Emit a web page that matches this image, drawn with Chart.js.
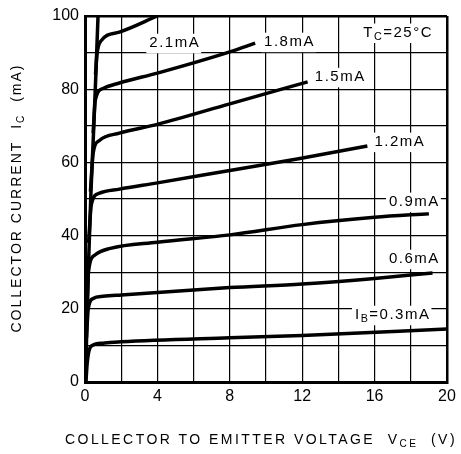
<!DOCTYPE html>
<html>
<head>
<meta charset="utf-8">
<script src="https://cdn.jsdelivr.net/npm/chart.js@4.4.1/dist/chart.umd.min.js"></script>
<style>
  html, body { margin: 0; padding: 0; background: #fff; }
  #wrap { width: 461px; height: 454px; }
</style>
</head>
<body>
<div id="wrap"><canvas id="chart"></canvas></div>
<script>
// Ejes: VCE (V) e IC (mA)
const vceTicks = [0, 4, 8, 12, 16, 20];
const icTicks = [0, 20, 40, 60, 80, 100];

// Curvas IC-VCE, [VCE, IC]
const ib03 = [[0.05, 0], [0.12, 5], [0.22, 8.5], [0.4, 10], [1, 10.6], [2, 11], [8, 12.1], [12, 12.7], [20, 14.5]];
const ib06 = [[0.08, 12], [0.18, 20], [0.45, 22.8], [1, 23.4], [2, 23.8], [8, 25.8], [12, 26.8], [16, 28.3], [19.2, 29.8]];
const ib09 = [[0.12, 22], [0.2, 30.5], [0.55, 34.7], [1.4, 36.5], [4, 38.2], [8, 40.2], [12, 43], [16, 45], [19, 46]];
const ib12 = [[0.2, 38], [0.35, 48.5], [0.8, 51.6], [1.9, 52.7], [4, 54.4], [8, 57.8], [11.8, 61], [15.6, 64.5]];
const ib15 = [[0.3, 52], [0.45, 62.5], [0.8, 66], [1.9, 68], [4, 70.4], [8, 76], [12.3, 82]];
const ib18 = [[0.45, 68], [0.57, 77], [1, 80.2], [1.9, 81.7], [4, 84.4], [8, 90.2], [9.4, 92.6]];
const ib21 = [[0.58, 84], [0.66, 89.5], [0.85, 93], [1.9, 95.6], [4, 100]];
const envelope = [[0.03, 0], [0.1, 15], [0.2, 33], [0.33, 52], [0.47, 68], [0.6, 84], [0.72, 100]];

const curves = [ib03, ib06, ib09, ib12, ib15, ib18, ib21, envelope];

const FONT = '"Liberation Sans", Arial, sans-serif';

// Texto con subíndices
function richWidth(ctx, parts, size, spacing) {
    let w = 0;
    parts.forEach(p => {
        ctx.font = `${p.sub ? size * 0.72 : size}px ${FONT}`;
        ctx.letterSpacing = spacing + 'px';
        w += ctx.measureText(p.t).width;
    });
    return w;
}

function drawRich(ctx, parts, cx, cy, size, spacing, box) {
    const w = richWidth(ctx, parts, size, spacing);
    let x = cx - w / 2;
    if (box) {
        ctx.fillStyle = '#fff';
        ctx.fillRect(x - 3, cy - size * 0.62, w + 4, size * 1.3);
    }
    ctx.fillStyle = '#000';
    ctx.textBaseline = 'middle';
    ctx.textAlign = 'left';
    parts.forEach(p => {
        ctx.font = `${p.sub ? size * 0.72 : size}px ${FONT}`;
        ctx.letterSpacing = spacing + 'px';
        ctx.fillText(p.t, x, cy + (p.sub ? size * 0.3 : 0));
        x += ctx.measureText(p.t).width;
    });
    ctx.letterSpacing = '0px';
}

function fitSpacing(ctx, parts, size, target) {
    const base = richWidth(ctx, parts, size, 0);
    const n = parts.reduce((a, p) => a + p.t.length, 0);
    return Math.max(0, (target - base) / n);
}

const curveLabels = [
    { parts: [{ t: '2.1mA' }], x: 4.96, y: 92.6 },
    { parts: [{ t: '1.8mA' }], x: 11.3, y: 92.9 },
    { parts: [{ t: '1.5mA' }], x: 14.1, y: 83.3 },
    { parts: [{ t: '1.2mA' }], x: 17.4, y: 65.6 },
    { parts: [{ t: '0.9mA' }], x: 18.2, y: 49.2 },
    { parts: [{ t: '0.6mA' }], x: 18.2, y: 33.6 },
    { parts: [{ t: 'I' }, { t: 'B', sub: true }, { t: '=0.3mA' }], x: 17.0, y: 18.3 },
    { parts: [{ t: 'T' }, { t: 'C', sub: true }, { t: '=25°C' }], x: 17.3, y: 95.4 }
];

const annotations = {
    id: 'annotations',
    afterDatasetsDraw(chart) {
        const ctx = chart.ctx;
        const sx = chart.scales.x, sy = chart.scales.y;
        ctx.save();
        curveLabels.forEach(l => {
            drawRich(ctx, l.parts, sx.getPixelForValue(l.x), sy.getPixelForValue(l.y), 15, 1.5, true);
        });
        ctx.restore();
    },
    afterDraw(chart) {
        const ctx = chart.ctx;
        ctx.save();
        const xt = [{ t: 'COLLECTOR TO EMITTER VOLTAGE  V' }, { t: 'CE', sub: true }, { t: '  (V)' }];
        drawRich(ctx, xt, 261, 440, 14, fitSpacing(ctx, xt, 14, 392), false);
        const yt = [{ t: 'COLLECTOR CURRENT  I' }, { t: 'C', sub: true }, { t: '  (mA)' }];
        ctx.translate(17, 198);
        ctx.rotate(-Math.PI / 2);
        drawRich(ctx, yt, 0, 0, 14, fitSpacing(ctx, yt, 14, 269), false);
        ctx.restore();
    }
};

const edgeWidth = (lo, hi) => c => (c.tick && (c.tick.value === lo || c.tick.value === hi)) ? 2.5 : 1.2;

new Chart(document.getElementById('chart'), {
    type: 'line',
    data: {
        datasets: curves.map(pts => ({
            data: pts.map(p => ({ x: p[0], y: p[1] })),
            borderColor: '#000',
            borderWidth: 3.5,
            pointRadius: 0,
            fill: false,
            cubicInterpolationMode: 'monotone',
            tension: 0.4
        }))
    },
    options: {
        responsive: true,
        maintainAspectRatio: false,
        animation: false,
        layout: { padding: { left: 0, right: 14, top: 16, bottom: 0 } },
        plugins: {
            legend: { display: false },
            tooltip: { enabled: false }
        },
        scales: {
            x: {
                type: 'linear',
                min: vceTicks[0],
                max: vceTicks[vceTicks.length - 1],
                afterFit: s => { s.height = 72; },
                ticks: {
                    stepSize: 2,
                    autoSkip: false,
                    maxRotation: 0,
                    padding: 5,
                    color: '#000',
                    font: { size: 16, family: FONT },
                    callback: v => vceTicks.includes(v) ? v : ''
                },
                grid: { color: '#000', lineWidth: edgeWidth(0, 20), drawTicks: false },
                border: { display: true, color: '#000', width: 3 }
            },
            y: {
                type: 'linear',
                min: icTicks[0],
                max: icTicks[icTicks.length - 1],
                afterFit: s => { s.width = 85; },
                ticks: {
                    stepSize: 10,
                    autoSkip: false,
                    padding: 6,
                    color: '#000',
                    font: { size: 16, family: FONT },
                    callback: v => icTicks.includes(v) ? v : ''
                },
                grid: { color: '#000', lineWidth: edgeWidth(0, 100), drawTicks: false },
                border: { display: true, color: '#000', width: 3 }
            }
        }
    },
    plugins: [annotations]
});
</script>
</body>
</html>
